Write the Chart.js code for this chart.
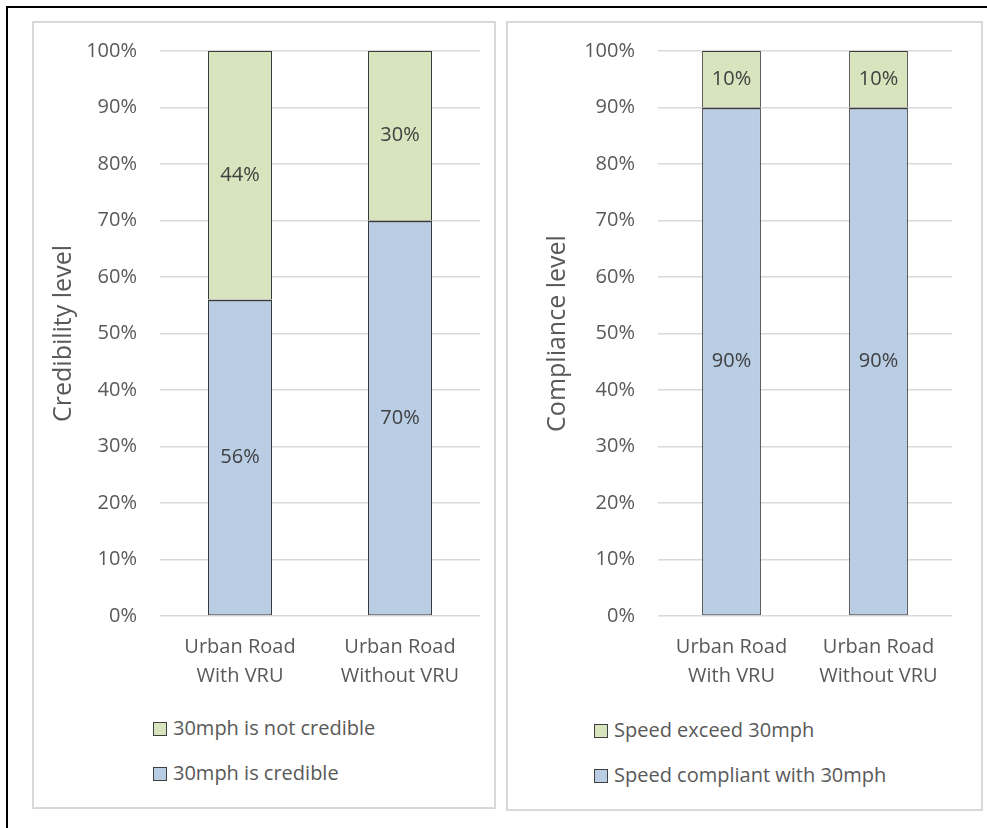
<!DOCTYPE html>
<html>
<head>
<meta charset="utf-8">
<script src="https://cdn.jsdelivr.net/npm/chart.js"></script>
<style>
  html, body { margin: 0; padding: 0; background: #fff; }
  body { width: 987px; height: 828px; position: relative; overflow: hidden; font-family: "Open Sans", sans-serif; }
  .frame { position: absolute; left: 6px; top: 6px; width: 990px; height: 830px; border-top: 2px solid #000; border-left: 2px solid #000; }
  .panel { position: absolute; border: 2px solid #d9d9d9; box-sizing: border-box; }
  .wrap { position: absolute; }
  .legend { position: absolute; color: #595959; font-size: 20px; }
  .legend div { height: 45px; line-height: 24px; white-space: nowrap; }
  .legend span.box { display: inline-block; width: 12px; height: 12px; border: 1px solid #404040; margin-right: 6px; vertical-align: -1px; }
</style>
</head>
<body>
<div class="frame"></div>
<div class="panel" style="left:32px; top:21px; width:464px; height:788px;"></div>
<div class="panel" style="left:506px; top:21px; width:477px; height:790px;"></div>

<div class="wrap" style="left:33px; top:22px; width:461px; height:680px;"><canvas id="credChart"></canvas></div>
<div class="wrap" style="left:507px; top:22px; width:474px; height:680px;"><canvas id="compChart"></canvas></div>

<div class="legend" id="credLegend" style="left:153px; top:716px;"></div>
<div class="legend" id="compLegend" style="left:594px; top:718px;"></div>

<script>
// categories and values (percent)
const roads = [['Urban Road', 'With VRU'], ['Urban Road', 'Without VRU']];
const credible = [56, 70];
const notCredible = [44, 30];
const compliant = [90, 90];
const exceed = [10, 10];

const BLUE = '#b9cde5';
const GREEN = '#d7e4bd';
const EDGE = '#3a3a3a';
const TEXT = '#595959';
const FONT = '"Open Sans", sans-serif';

// write the value inside each bar segment
const segmentLabels = {
  id: 'segmentLabels',
  afterDatasetsDraw(chart) {
    const ctx = chart.ctx;
    ctx.save();
    ctx.font = '20px ' + FONT;
    ctx.fillStyle = '#404040';
    ctx.textAlign = 'center';
    ctx.textBaseline = 'middle';
    chart.data.datasets.forEach((ds, i) => {
      chart.getDatasetMeta(i).data.forEach((bar, j) => {
        const { x, y, base } = bar.getProps(['x', 'y', 'base'], true);
        ctx.fillText(ds.data[j] + '%', x, (y + base) / 2);
      });
    });
    ctx.restore();
  }
};

function makeChart(id, legendId, title, lower, upper, yWidth, titlePad, padRight) {
  const chart = new Chart(document.getElementById(id), {
    type: 'bar',
    data: {
      labels: roads,
      datasets: [
        { label: lower.label, data: lower.data, backgroundColor: BLUE, borderColor: EDGE,
          borderWidth: { top: 2, right: 1, bottom: 1, left: 1 }, borderSkipped: false, inflateAmount: 0 },
        { label: upper.label, data: upper.data, backgroundColor: GREEN, borderColor: EDGE,
          borderWidth: { top: 1, right: 1, bottom: 0, left: 1 }, borderSkipped: false, inflateAmount: 0 }
      ]
    },
    options: {
      responsive: true,
      maintainAspectRatio: false,
      animation: false,
      layout: { padding: { top: 29, right: padRight, bottom: 0, left: 0 } },
      datasets: { bar: { categoryPercentage: 0.8, barPercentage: 0.5 } },
      plugins: { legend: { display: false }, tooltip: { enabled: false } },
      scales: {
        x: {
          stacked: true,
          grid: { display: false, drawTicks: false },
          border: { display: false },
          ticks: { color: TEXT, padding: 17, font: { family: FONT, size: 20, lineHeight: 1.45 } },
          afterFit(scale) { scale.height = 86; }
        },
        y: {
          stacked: true,
          min: 0,
          max: 100,
          // invisible tick marks give the label gap without pushing the plot down
          grid: { color: '#d9d9d9', lineWidth: 1.5, drawTicks: true, tickLength: 20, tickColor: 'rgba(0,0,0,0)' },
          border: { display: false },
          ticks: { stepSize: 10, color: TEXT, padding: 3, font: { family: FONT, size: 20 }, callback: v => v + '%' },
          title: { display: true, text: title, color: TEXT, padding: { top: titlePad, bottom: 0 }, font: { family: FONT, size: 25, lineHeight: 1.2 } },
          afterFit(scale) { scale.width = yWidth; }
        }
      }
    },
    plugins: [segmentLabels]
  });

  // legend in Excel order: top series first
  const box = document.getElementById(legendId);
  chart.data.datasets.slice().reverse().forEach(ds => {
    const row = document.createElement('div');
    row.innerHTML = '<span class="box" style="background:' + ds.backgroundColor + '"></span>' + ds.label;
    box.appendChild(row);
  });
  return chart;
}

makeChart('credChart', 'credLegend', 'Credibility level',
  { label: '30mph is credible', data: credible },
  { label: '30mph is not credible', data: notCredible },
  127, 16, 14);

makeChart('compChart', 'compLegend', 'Compliance level',
  { label: 'Speed compliant with 30mph', data: compliant },
  { label: 'Speed exceed 30mph', data: exceed },
  151, 36, 29);
</script>
</body>
</html>
